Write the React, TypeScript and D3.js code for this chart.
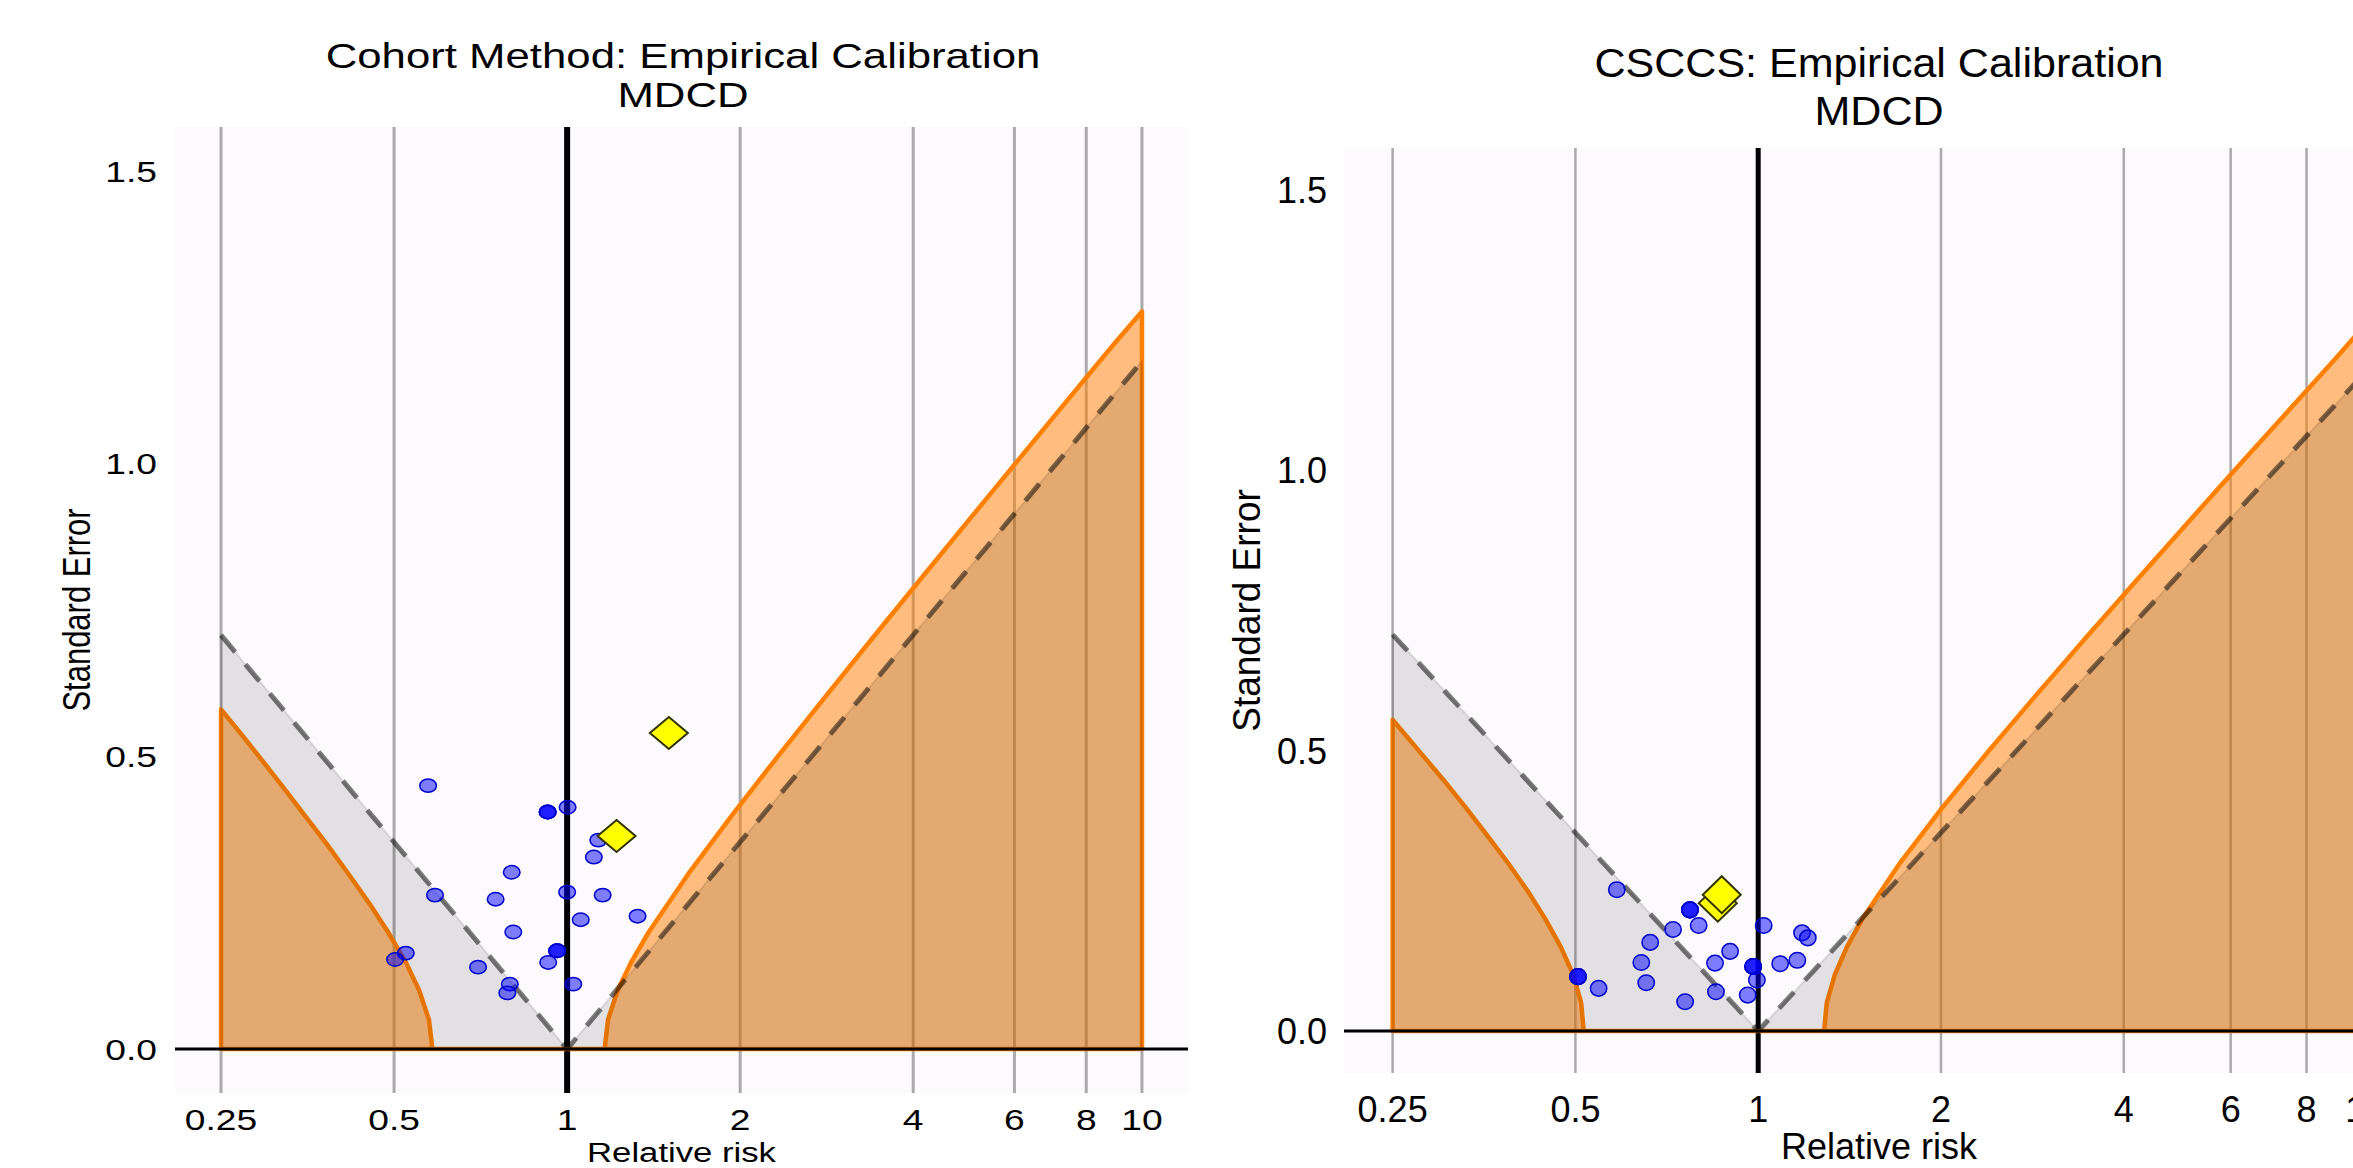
import React, { useEffect } from "react";
import * as d3 from "d3";

// ---------- shared axis values ----------
const xBreaks = [0.25, 0.5, 1, 2, 4, 6, 8, 10];
const xBreakLabels = ["0.25", "0.5", "1", "2", "4", "6", "8", "10"];
const yBreaks = [0, 0.5, 1, 1.5];
const yBreakLabels = ["0.0", "0.5", "1.0", "1.5"];

// theoretical null (dashed) boundary
const nullRR = [0.25, 1, 10];
const nullSE = [0.707, 0, 1.175];

// ---------- Cohort Method panel ----------
const cmBoundaryRR = [0.25, 0.265, 0.291, 0.319, 0.349, 0.382, 0.416, 0.452, 0.488, 0.523, 0.553, 0.575, 0.583,
  1.162, 1.178, 1.224, 1.295, 1.387, 1.627, 1.938, 2.326, 2.803, 3.386, 4.098, 4.966, 6.02, 7.3, 8.866, 10];
const cmBoundarySE = [0.58, 0.55, 0.5, 0.45, 0.4, 0.35, 0.3, 0.25, 0.2, 0.15, 0.1, 0.05, 0,
  0, 0.05, 0.1, 0.15, 0.2, 0.3, 0.4, 0.5, 0.6, 0.7, 0.8, 0.9, 1.0, 1.1, 1.2, 1.26];
const cmRR = [0.573, 0.925, 0.925, 0.925, 1.002, 1.133, 1.113, 0.801, 0.589, 0.751, 1.0, 1.153, 1.326, 1.056,
  0.806, 0.961, 0.961, 0.961, 0.927, 0.524, 0.502, 0.7, 0.795, 0.787, 1.025];
const cmSE = [0.45, 0.405, 0.405, 0.405, 0.413, 0.357, 0.328, 0.302, 0.263, 0.256, 0.268, 0.263, 0.227, 0.221,
  0.2, 0.168, 0.168, 0.168, 0.148, 0.164, 0.153, 0.14, 0.111, 0.096, 0.111];
const cmCalRR = [1.219, 1.503];
const cmCalSE = [0.364, 0.54];

// ---------- CSCCS panel ----------
const cscBoundaryRR = [0.25, 0.276, 0.302, 0.329, 0.357, 0.387, 0.417, 0.446, 0.473, 0.496, 0.511, 0.516,
  1.284, 1.297, 1.337, 1.4, 1.485, 1.713, 2.016, 2.399, 2.874, 3.456, 4.168, 5.035, 6.09, 7.38, 8.94, 10];
const cscBoundarySE = [0.555, 0.5, 0.45, 0.4, 0.35, 0.3, 0.25, 0.2, 0.15, 0.1, 0.05, 0,
  0, 0.05, 0.1, 0.15, 0.2, 0.3, 0.4, 0.5, 0.6, 0.7, 0.8, 0.9, 1.0, 1.1, 1.2, 1.26];
const cscRR = [0.585, 0.772, 0.772, 0.772, 0.798, 0.724, 0.664, 0.642, 0.654, 0.505, 0.505, 0.505, 0.546, 0.758,
  0.852, 0.849, 0.899, 0.961, 0.981, 0.981, 0.981, 0.995, 1.021, 1.087, 1.16, 1.181, 1.207];
const cscSE = [0.252, 0.216, 0.216, 0.216, 0.188, 0.181, 0.158, 0.122, 0.086, 0.097, 0.097, 0.097, 0.076, 0.052,
  0.07, 0.121, 0.142, 0.064, 0.115, 0.115, 0.115, 0.091, 0.188, 0.12, 0.126, 0.175, 0.166];
const cscCalRR = [0.858, 0.871];
const cscCalSE = [0.228, 0.243];

const FONT = "'Liberation Sans', Arial, Helvetica, sans-serif";

type Cfg = {
  title: string;
  subtitle: string;
  left: number; right: number; top: number; bottom: number;
  titleX: number; titleY: number; subY: number; titleSize: number; titleSx: number;
  tickSize: number; tickSx: number; yTickX: number; xTickY: number;
  yTitleX: number; yTitleSize: number; yTitleSx: number;
  xTitleY: number; xTitleSize: number;
  vlineW: number; gridW: number;
  ptRx: number; ptRy: number; dRx: number; dRy: number;
};

function SText(props: { x: number; y: number; sx: number; size: number; anchor: string; rotate?: boolean; dy?: string; children: any }) {
  const { x, y, sx, size, anchor, rotate, dy, children } = props;
  const t = `translate(${x},${y}) scale(${sx},1)` + (rotate ? " rotate(-90)" : "");
  return (
    <text transform={t} fontSize={size} textAnchor={anchor} fontFamily={FONT} fill="#000" dy={dy}>
      {children}
    </text>
  );
}

function Panel(props: { cfg: Cfg; rr: number[]; se: number[]; calRR: number[]; calSE: number[]; bRR: number[]; bSE: number[] }) {
  const { cfg, rr, se, calRR, calSE, bRR, bSE } = props;
  const x = d3.scaleLog().domain([0.25 * Math.exp(-0.1844), 10 * Math.exp(0.1844)]).range([cfg.left, cfg.right]);
  const y = d3.scaleLinear().domain([-0.075, 1.575]).range([cfg.bottom, cfg.top]);

  const line = d3.line<[number, number]>().x((d) => x(d[0])).y((d) => y(d[1]));
  const boundary: [number, number][] = bRR.map((r, i) => [r, bSE[i]]);
  const orangePts: [number, number][] = [[xBreaks[0], 0], ...boundary, [xBreaks[xBreaks.length - 1], 0]];
  const orangePath = line(orangePts) + "Z";
  const nullPts: [number, number][] = nullRR.map((r, i) => [r, nullSE[i]]);
  const grayPts: [number, number][] = [[nullRR[0], 0], ...nullPts, [nullRR[nullRR.length - 1], 0]];
  const grayPath = line(grayPts) + "Z";
  const dashPath = line(nullPts) || "";

  const diamond = (cx: number, cy: number) =>
    `M${cx},${cy - cfg.dRy}L${cx + cfg.dRx},${cy}L${cx},${cy + cfg.dRy}L${cx - cfg.dRx},${cy}Z`;

  return (
    <g>
      <rect x={cfg.left} y={cfg.top} width={cfg.right - cfg.left} height={cfg.bottom - cfg.top} fill="#FCFAFC" />
      {xBreaks.map((b) => (
        <line key={"g" + b} x1={x(b)} x2={x(b)} y1={cfg.top} y2={cfg.bottom} stroke="#AAAAAA" strokeWidth={cfg.gridW} />
      ))}
      <line x1={x(1)} x2={x(1)} y1={cfg.top} y2={cfg.bottom} stroke="#000" strokeWidth={cfg.vlineW} />
      <path d={orangePath} fill="rgba(255,128,0,0.5)" stroke="#FF8000" strokeWidth={4.5} strokeLinejoin="round" />
      <path d={grayPath} fill="rgba(0,0,0,0.1)" stroke="rgba(0,0,0,0.1)" strokeWidth={2} />
      <path d={dashPath} fill="none" stroke="rgba(0,0,0,0.5)" strokeWidth={5} strokeDasharray="22 16" />
      {rr.map((r, i) => (
        <ellipse key={"p" + i} cx={x(r)} cy={y(se[i])} rx={cfg.ptRx} ry={cfg.ptRy}
          fill="rgba(0,0,255,0.5)" stroke="#0000CC" strokeWidth={1.5} />
      ))}
      {calRR.map((r, i) => (
        <path key={"d" + i} d={diamond(x(r), y(calSE[i]))} fill="#FFFF00" stroke="#333300" strokeWidth={2} />
      ))}
      <line x1={cfg.left} x2={cfg.right} y1={y(0)} y2={y(0)} stroke="#000" strokeWidth={3} />

      {/* titles */}
      <SText x={cfg.titleX} y={cfg.titleY} sx={cfg.titleSx} size={cfg.titleSize} anchor="middle">{cfg.title}</SText>
      <SText x={cfg.titleX} y={cfg.subY} sx={cfg.titleSx} size={cfg.titleSize} anchor="middle">{cfg.subtitle}</SText>

      {/* y ticks */}
      {yBreaks.map((b, i) => (
        <SText key={"yt" + b} x={cfg.yTickX} y={y(b)} sx={cfg.tickSx} size={cfg.tickSize} anchor="end" dy="0.36em">
          {yBreakLabels[i]}
        </SText>
      ))}
      <SText x={cfg.yTitleX} y={(cfg.top + cfg.bottom) / 2} sx={cfg.yTitleSx} size={cfg.yTitleSize} anchor="middle" rotate>
        Standard Error
      </SText>

      {/* x ticks */}
      {xBreaks.map((b, i) => (
        <SText key={"xt" + b} x={x(b)} y={cfg.xTickY} sx={cfg.tickSx} size={cfg.tickSize} anchor="middle">
          {xBreakLabels[i]}
        </SText>
      ))}
      <SText x={(cfg.left + cfg.right) / 2} y={cfg.xTitleY} sx={cfg.tickSx} size={cfg.xTitleSize} anchor="middle">
        Relative risk
      </SText>
    </g>
  );
}

const leftCfg: Cfg = {
  title: "Cohort Method: Empirical Calibration",
  subtitle: "MDCD",
  left: 175, right: 1188, top: 127, bottom: 1093,
  titleX: 683, titleY: 68, subY: 107, titleSize: 35, titleSx: 1.25,
  tickSize: 30, tickSx: 1.24, yTickX: 157, xTickY: 1130,
  yTitleX: 90, yTitleSize: 31, yTitleSx: 1.24,
  xTitleY: 1162, xTitleSize: 28,
  vlineW: 6, gridW: 3,
  ptRx: 8.3, ptRy: 6.7, dRx: 19, dRy: 16,
};

const rightCfg: Cfg = {
  title: "CSCCS: Empirical Calibration",
  subtitle: "MDCD",
  left: 1344, right: 2414, top: 148, bottom: 1073,
  titleX: 1879, titleY: 77, subY: 125, titleSize: 41, titleSx: 1.05,
  tickSize: 36, tickSx: 1.0, yTickX: 1327, xTickY: 1122,
  yTitleX: 1260, yTitleSize: 37, yTitleSx: 1.03,
  xTitleY: 1159, xTitleSize: 36,
  vlineW: 5, gridW: 2.5,
  ptRx: 8.2, ptRy: 7.8, dRx: 19, dRy: 18.5,
};

export default function App() {
  useEffect(() => {
    document.body.style.margin = "0";
    document.body.style.overflow = "hidden";
  }, []);
  return (
    <svg width={2353} height={1168} style={{ position: "absolute", left: 0, top: 0, display: "block", background: "#fff" }}>
      <rect x={0} y={0} width={2353} height={1168} fill="#FFFFFF" />
      <Panel cfg={leftCfg} rr={cmRR} se={cmSE} calRR={cmCalRR} calSE={cmCalSE} bRR={cmBoundaryRR} bSE={cmBoundarySE} />
      <Panel cfg={rightCfg} rr={cscRR} se={cscSE} calRR={cscCalRR} calSE={cscCalSE} bRR={cscBoundaryRR} bSE={cscBoundarySE} />
    </svg>
  );
}
